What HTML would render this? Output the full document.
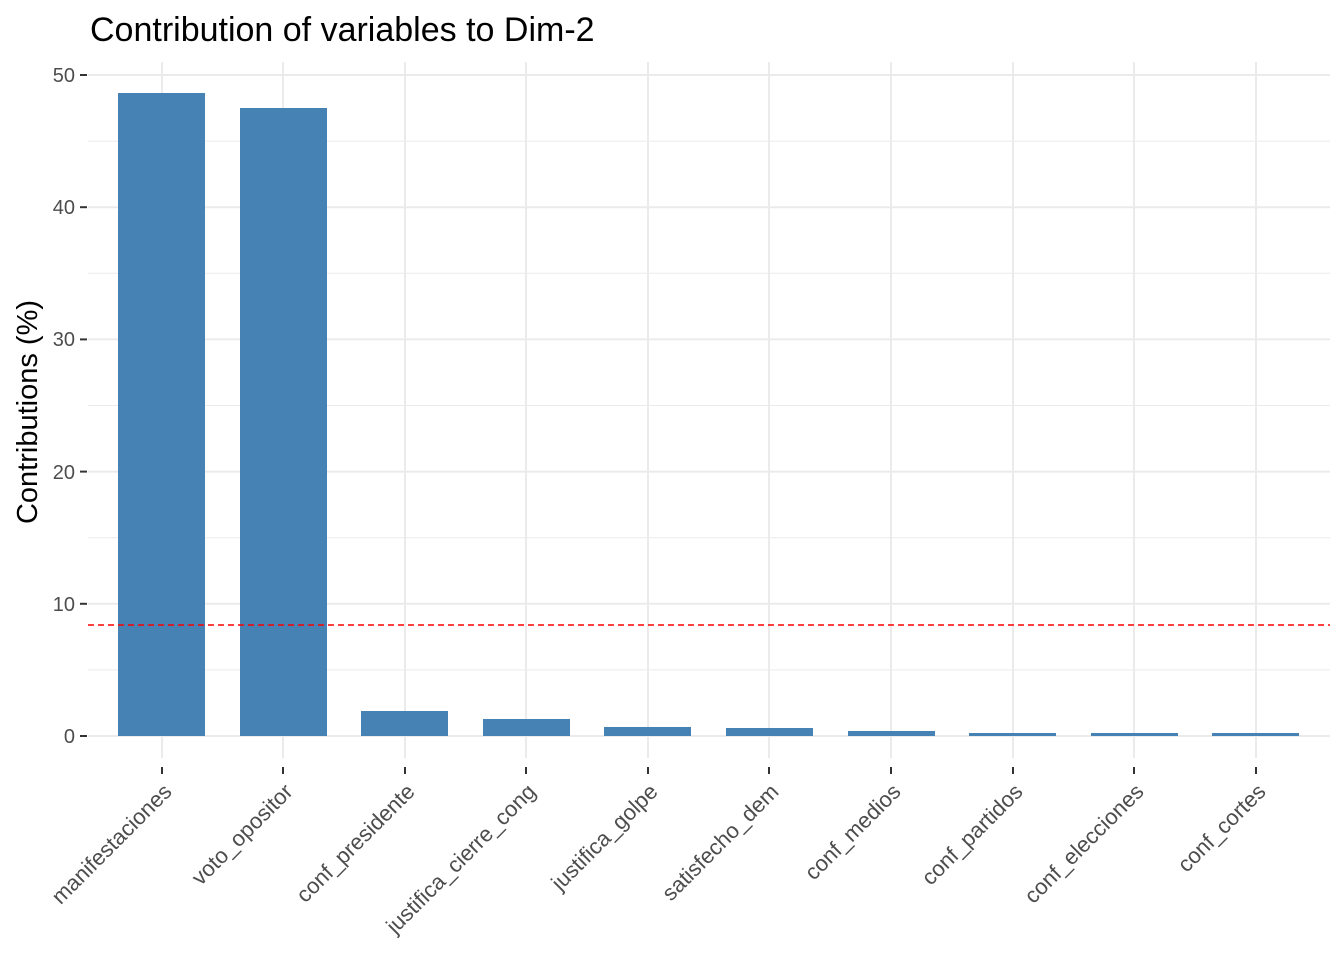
<!DOCTYPE html>
<html><head><meta charset="utf-8"><style>body{margin:0;background:#fff}svg{display:block}</style></head><body>
<svg width="1344" height="960" xmlns="http://www.w3.org/2000/svg" font-family="Liberation Sans, Arial, sans-serif">
<rect width="1344" height="960" fill="#fff"/>
<g stroke="#ebebeb" stroke-width="1">
<line x1="88" x2="1330" y1="669.9" y2="669.9"/><line x1="88" x2="1330" y1="537.7" y2="537.7"/><line x1="88" x2="1330" y1="405.5" y2="405.5"/><line x1="88" x2="1330" y1="273.3" y2="273.3"/><line x1="88" x2="1330" y1="141.1" y2="141.1"/>
</g>
<g stroke="#ebebeb" stroke-width="2">
<line x1="88" x2="1330" y1="736" y2="736"/><line x1="88" x2="1330" y1="603.8" y2="603.8"/><line x1="88" x2="1330" y1="471.6" y2="471.6"/><line x1="88" x2="1330" y1="339.4" y2="339.4"/><line x1="88" x2="1330" y1="207.2" y2="207.2"/><line x1="88" x2="1330" y1="75" y2="75"/>
<line x1="162" x2="162" y1="62" y2="758"/><line x1="283" x2="283" y1="62" y2="758"/><line x1="405" x2="405" y1="62" y2="758"/><line x1="526" x2="526" y1="62" y2="758"/><line x1="648" x2="648" y1="62" y2="758"/><line x1="769" x2="769" y1="62" y2="758"/><line x1="891" x2="891" y1="62" y2="758"/><line x1="1013" x2="1013" y1="62" y2="758"/><line x1="1134" x2="1134" y1="62" y2="758"/><line x1="1256" x2="1256" y1="62" y2="758"/>
</g>
<g fill="#4682b4">
<rect x="118" y="93" width="87" height="643"/>
<rect x="240" y="108" width="87" height="628"/>
<rect x="361" y="711" width="87" height="25"/>
<rect x="483" y="719" width="87" height="17"/>
<rect x="604" y="727" width="87" height="9"/>
<rect x="726" y="728" width="87" height="8"/>
<rect x="848" y="731" width="87" height="5"/>
<rect x="969" y="733" width="87" height="3"/>
<rect x="1091" y="733" width="87" height="3"/>
<rect x="1212" y="733" width="87" height="3"/>
</g>
<line x1="88" x2="1330" y1="625" y2="625" stroke="#ff0000" stroke-width="1.5" stroke-dasharray="6,4"/>
<g stroke="#333" stroke-width="2">
<line x1="80" x2="87" y1="736" y2="736"/><line x1="80" x2="87" y1="603.8" y2="603.8"/><line x1="80" x2="87" y1="471.6" y2="471.6"/><line x1="80" x2="87" y1="339.4" y2="339.4"/><line x1="80" x2="87" y1="207.2" y2="207.2"/><line x1="80" x2="87" y1="75" y2="75"/>
<line x1="162" x2="162" y1="767" y2="774"/><line x1="283" x2="283" y1="767" y2="774"/><line x1="405" x2="405" y1="767" y2="774"/><line x1="526" x2="526" y1="767" y2="774"/><line x1="648" x2="648" y1="767" y2="774"/><line x1="769" x2="769" y1="767" y2="774"/><line x1="891" x2="891" y1="767" y2="774"/><line x1="1013" x2="1013" y1="767" y2="774"/><line x1="1134" x2="1134" y1="767" y2="774"/><line x1="1256" x2="1256" y1="767" y2="774"/>
</g>
<g fill="#4d4d4d" font-size="20" text-anchor="end">
<text x="75" y="743">0</text><text x="75" y="611">10</text><text x="75" y="479">20</text><text x="75" y="346">30</text><text x="75" y="214">40</text><text x="75" y="82">50</text>
</g>
<g fill="#4d4d4d" font-size="22" text-anchor="end">
<text transform="translate(173,793) rotate(-45)">manifestaciones</text>
<text transform="translate(294,793) rotate(-45)">voto_opositor</text>
<text transform="translate(416,793) rotate(-45)">conf_presidente</text>
<text transform="translate(537,793) rotate(-45)">justifica_cierre_cong</text>
<text transform="translate(659,793) rotate(-45)">justifica_golpe</text>
<text transform="translate(780,793) rotate(-45)">satisfecho_dem</text>
<text transform="translate(902,793) rotate(-45)">conf_medios</text>
<text transform="translate(1024,793) rotate(-45)">conf_partidos</text>
<text transform="translate(1145,793) rotate(-45)">conf_elecciones</text>
<text transform="translate(1267,793) rotate(-45)">conf_cortes</text>
</g>
<text transform="translate(37,412) rotate(-90)" text-anchor="middle" font-size="29" fill="#000">Contributions (%)</text>
<text x="90" y="41" font-size="34" fill="#000">Contribution of variables to Dim-2</text>
</svg>
</body></html>
